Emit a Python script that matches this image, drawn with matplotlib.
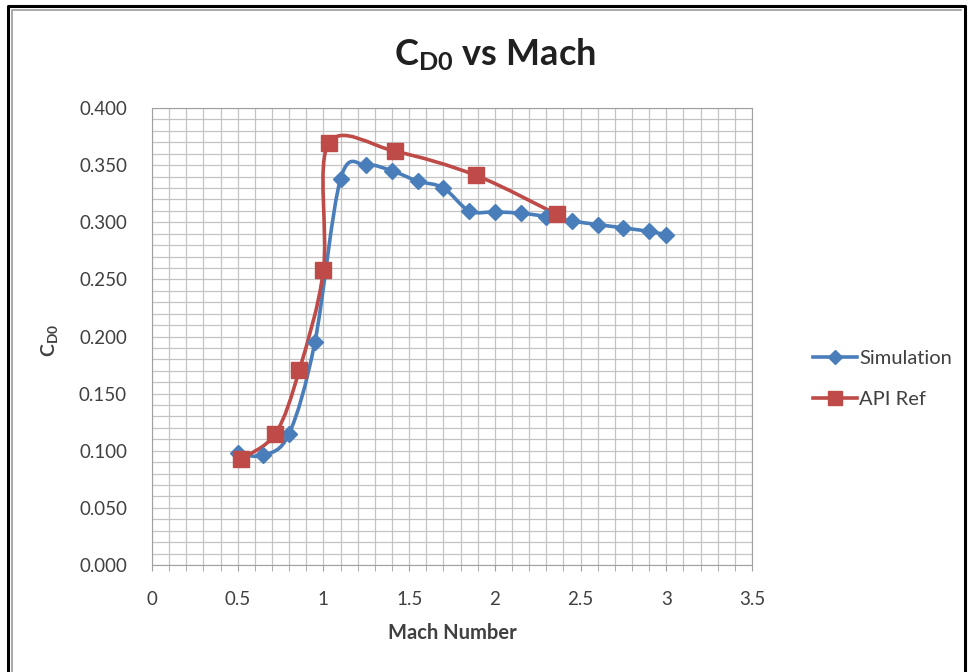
import numpy as np
import matplotlib as mpl
from matplotlib import pyplot as plt
from matplotlib.path import Path
from matplotlib.patches import PathPatch
from matplotlib.lines import Line2D
from matplotlib.ticker import MultipleLocator, FormatStrFormatter, FuncFormatter

mpl.rcParams["font.family"] = ["Lato", "DejaVu Sans"]
mpl.rcParams["mathtext.default"] = "regular"

# data
sim_mach = [0.5, 0.65, 0.8, 0.95, 1.1, 1.25, 1.4, 1.55, 1.7, 1.85, 2.0, 2.15,
            2.3, 2.45, 2.6, 2.75, 2.9, 3.0]
sim_cd0 = [0.098, 0.096, 0.115, 0.195, 0.338, 0.350, 0.345, 0.336, 0.330, 0.310,
           0.309, 0.308, 0.305, 0.301, 0.298, 0.295, 0.292, 0.289]

api_mach = [0.52, 0.72, 0.86, 1.0, 1.03, 1.42, 1.89, 2.36]
api_cd0 = [0.093, 0.115, 0.171, 0.258, 0.369, 0.362, 0.341, 0.307]

blue = "#4a7ebb"
red = "#be4b48"


def smooth_path(xs, ys):
    # Excel-style smoothed line: cubic Bezier through every point
    p = np.column_stack([xs, ys]).astype(float)
    n = len(p)
    verts = [p[0]]
    codes = [Path.MOVETO]
    for i in range(n - 1):
        prev = p[max(i - 1, 0)]
        nxt = p[min(i + 2, n - 1)]
        c1 = p[i] + (p[i + 1] - prev) / 6.0
        c2 = p[i + 1] - (nxt - p[i]) / 6.0
        verts += [c1, c2, p[i + 1]]
        codes += [Path.CURVE4] * 3
    return Path(verts, codes)


W, H = 969, 672
fig = plt.figure(figsize=(W / 100, H / 100), dpi=100)
ax = fig.add_axes([152 / W, 1 - 565 / H, 600 / W, 457 / H])

ax.set_xlim(0, 3.5)
ax.set_ylim(0, 0.4)
ax.xaxis.set_major_locator(MultipleLocator(0.5))
ax.xaxis.set_minor_locator(MultipleLocator(0.1))
ax.yaxis.set_major_locator(MultipleLocator(0.05))
ax.yaxis.set_minor_locator(MultipleLocator(0.01))
ax.xaxis.set_major_formatter(FuncFormatter(lambda v, _: f"{v:g}"))
ax.yaxis.set_major_formatter(FormatStrFormatter("%.3f"))
ax.grid(which="both", color="#c4c4c4", lw=0.9)
ax.set_axisbelow(True)
for s in ax.spines.values():
    s.set_color("#a0a0a0")
ax.tick_params(axis="x", which="both", direction="out", length=4, color="#a0a0a0",
               labelsize=13.5, labelcolor="#404040", pad=15)
ax.tick_params(axis="y", which="both", length=0, labelsize=13.5, labelcolor="#404040", pad=18)

for xs, ys, c, m, ms in [(sim_mach, sim_cd0, blue, "D", 8.5), (api_mach, api_cd0, red, "s", 12)]:
    ax.add_patch(PathPatch(smooth_path(xs, ys), fc="none", ec=c, lw=2.6,
                           capstyle="round", joinstyle="round", zorder=3))
    ax.plot(xs, ys, ls="none", marker=m, ms=ms, color=c, mec=c, zorder=4)

handles = [
    Line2D([], [], color=blue, lw=2.6, marker="D", ms=7),
    Line2D([], [], color=red, lw=2.6, marker="s", ms=10),
]
fig.legend(handles, ["Simulation", "API Ref"], loc="center left",
           bbox_to_anchor=(795 / W, 1 - 379 / H), frameon=False, fontsize=14.5,
           handlelength=2.2, handletextpad=0.1, labelspacing=1.2, labelcolor="#404040")

fig.text(495 / W, 1 - 55 / H, "C$_{D0}$ vs Mach", ha="center", va="center",
         fontsize=26, fontweight="bold", color="#202020")
fig.text(452 / W, 1 - 633 / H, "Mach Number", ha="center", va="center",
         fontsize=14.5, fontweight="bold", color="#404040")
fig.text(50 / W, 1 - 340 / H, "C$_{D0}$", ha="center", va="center", rotation=90,
         fontsize=14, fontweight="bold", color="#404040")

# outer frame like the pasted screenshot
fig.add_artist(Line2D([8 / W, 8 / W, 965 / W, 965 / W], [0, 1 - 6 / H, 1 - 6 / H, 0],
                      color="black", lw=2.2))
fig.add_artist(Line2D([12 / W, 12 / W, 961 / W], [0, 1 - 10 / H, 1 - 10 / H],
                      color="#9a9a9a", lw=1.2))

fig.savefig("out.png", dpi=100)
plt.close(fig)
